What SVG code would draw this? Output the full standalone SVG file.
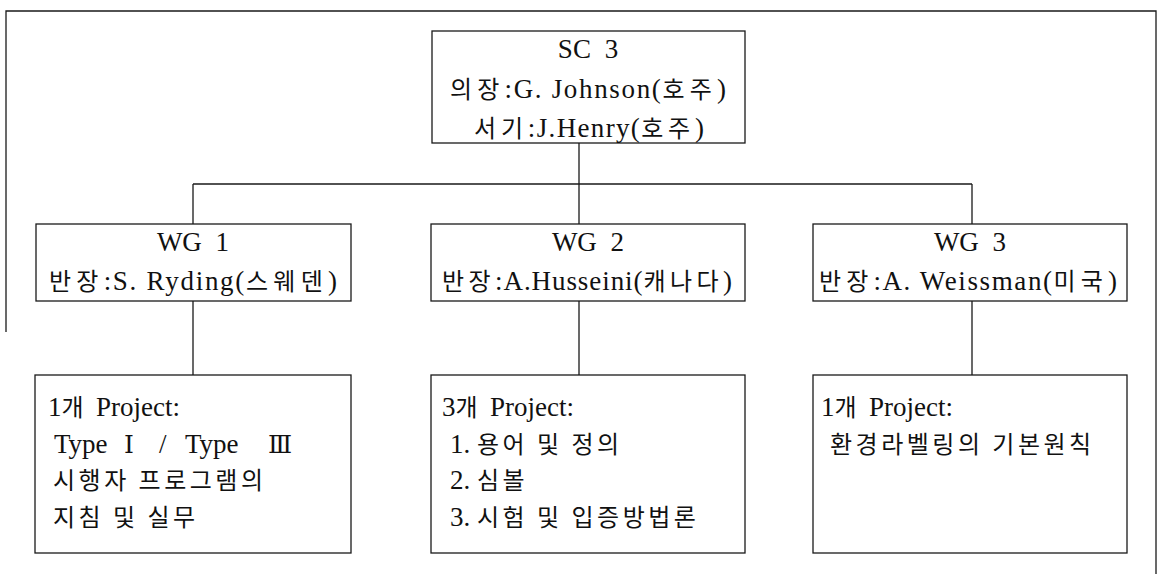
<svg xmlns="http://www.w3.org/2000/svg" width="1161" height="574" viewBox="0 0 1161 574">
<style>
.box{fill:#fff;stroke:#1a1a1a;stroke-width:1.3}
.ln{fill:none;stroke:#1a1a1a;stroke-width:1.3}
text{font-family:'Liberation Serif','Noto Sans CJK KR',serif;font-size:27px;fill:#111}
.k{font-family:'Noto Sans CJK KR',sans-serif;font-size:24px;letter-spacing:3.5px}
.r{font-family:'DejaVu Serif','Noto Sans CJK KR',serif;font-size:25px}
.c{text-anchor:middle}
.t{word-spacing:7px}
</style>
<rect width="1161" height="574" fill="#fff"/>
<g id="frame"><path class="ln" d="M6,332 V11 H1156 V574"/></g>
<g id="connectors">
<path class="ln" d="M579,143 V184 M193,184 H972 M193,184 V224 M579,184 V224 M972,184 V224 M193,301 V375 M579,301 V375 M972,301 V375"/>
</g>
<g id="sc3">
<rect class="box" x="432" y="31" width="313" height="112"/>
<text class="c t" x="588" y="58">SC 3</text>
<text x="450" y="98" textLength="276" lengthAdjust="spacing"><tspan class="k">의장</tspan>:G. Johnson(<tspan class="k">호주</tspan>)</text>
<text x="474" y="137" textLength="230" lengthAdjust="spacing"><tspan class="k">서기</tspan>:J.Henry(<tspan class="k">호주</tspan>)</text>
</g>
<g id="wg1">
<rect class="box" x="36" y="224" width="315" height="77"/>
<text class="c t" x="193" y="251">WG 1</text>
<text class="c" x="193" y="290" textLength="288" lengthAdjust="spacing"><tspan class="k">반장</tspan>:S. Ryding(<tspan class="k">스웨덴</tspan>)</text>
</g>
<g id="wg2">
<rect class="box" x="431" y="224" width="314" height="77"/>
<text class="c t" x="588" y="251">WG 2</text>
<text class="c" x="587" y="290" textLength="290" lengthAdjust="spacing"><tspan class="k">반장</tspan>:A.Husseini(<tspan class="k">캐나다</tspan>)</text>
</g>
<g id="wg3">
<rect class="box" x="813" y="224" width="314" height="77"/>
<text class="c t" x="970" y="251">WG 3</text>
<text class="c" x="968" y="290" textLength="298" lengthAdjust="spacing"><tspan class="k">반장</tspan>:A. Weissman(<tspan class="k">미국</tspan>)</text>
</g>
<g id="p1">
<rect class="box" x="35" y="375" width="316" height="178"/>
<text x="48" y="416">1<tspan class="k">개 </tspan>Project:</text>
<text y="453"><tspan x="54">Type</tspan><tspan x="124" class="r">Ⅰ</tspan><tspan x="159">/</tspan><tspan x="185">Type</tspan><tspan x="268" class="r">Ⅲ</tspan></text>
<text x="53" y="489"><tspan class="k">시행자 프로그램의</tspan></text>
<text x="53" y="526"><tspan class="k">지침 및 실무</tspan></text>
</g>
<g id="p2">
<rect class="box" x="431" y="375" width="314" height="178"/>
<text x="442" y="416">3<tspan class="k">개 </tspan>Project:</text>
<text x="450" y="453">1. <tspan class="k">용어 및 정의</tspan></text>
<text x="450" y="489">2. <tspan class="k">심볼</tspan></text>
<text x="450" y="526">3. <tspan class="k">시험 및 입증방법론</tspan></text>
</g>
<g id="p3">
<rect class="box" x="813" y="375" width="314" height="178"/>
<text x="821" y="416">1<tspan class="k">개 </tspan>Project:</text>
<text x="830" y="453"><tspan class="k">환경라벨링의 기본원칙</tspan></text>
</g>
</svg>
